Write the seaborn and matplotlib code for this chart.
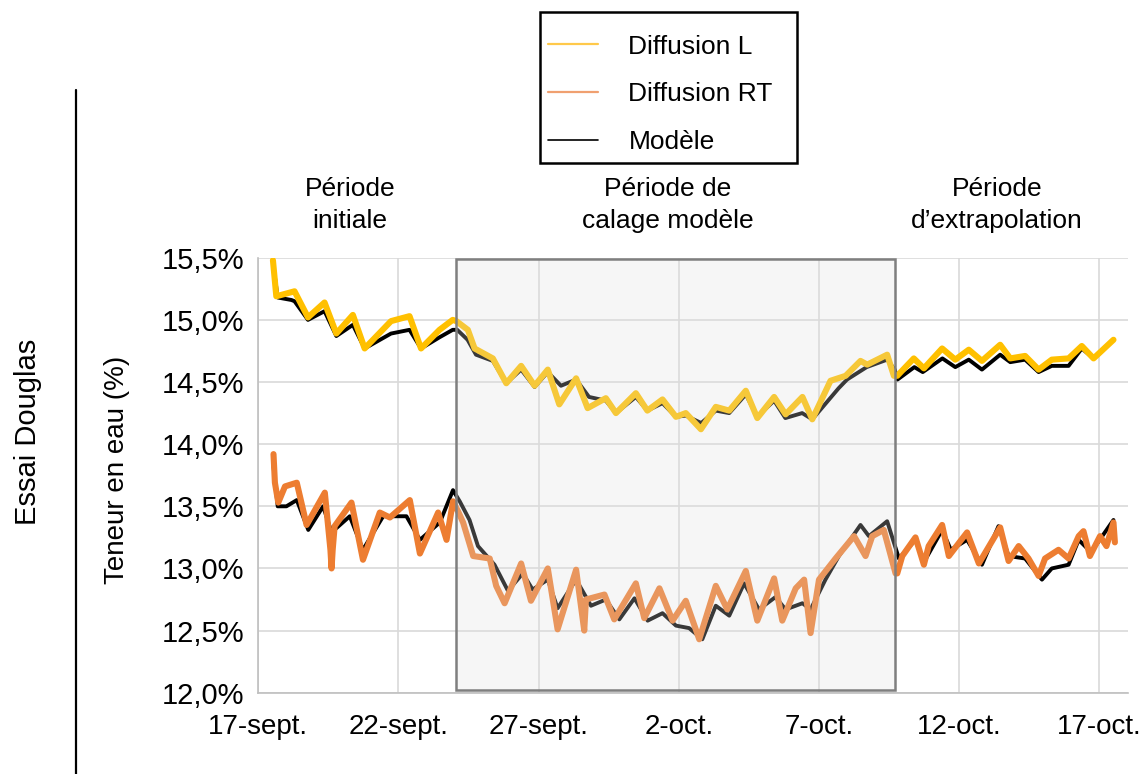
import pandas as pd
import matplotlib.pyplot as plt
import matplotlib.dates as mdates
from matplotlib.lines import Line2D
from matplotlib.patches import Rectangle
import seaborn as sns

sns.set_style("white")
plt.rcParams['font.family'] = ['Liberation Sans', 'DejaVu Sans']
plt.rcParams['text.color'] = 'black'
plt.rcParams['xtick.color'] = 'black'
plt.rcParams['ytick.color'] = 'black'

start = pd.Timestamp("2019-09-17")

# jours depuis le 17-sept. 00h, teneur en eau en %
l_days = [0.53, 0.65, 1.3, 1.78, 2.37, 2.79, 3.38, 3.80, 4.74, 5.40,
          5.81, 6.47, 6.94, 7.07, 7.48, 7.72, 8.37, 8.85, 9.38, 9.86,
          10.33, 10.74, 11.34, 11.75, 12.40, 12.76, 13.47, 13.88, 14.42, 14.90,
          15.25, 15.79, 16.32, 16.80, 17.39, 17.80, 18.40, 18.81, 19.41, 19.76,
          20.41, 20.95, 21.48, 21.72, 22.43, 22.67, 22.79, 23.38, 23.74, 24.39,
          24.86, 25.34, 25.81, 26.46, 26.82, 27.35, 27.83, 28.30, 28.90, 29.37,
          29.79, 30.50]
l_vals = [15.48, 15.19, 15.23, 15.02, 15.14, 14.89, 15.04, 14.77, 14.99, 15.03,
          14.77, 14.92, 15.00, 14.99, 14.92, 14.77, 14.69, 14.49, 14.63, 14.47,
          14.60, 14.32, 14.53, 14.29, 14.37, 14.25, 14.41, 14.27, 14.36, 14.22,
          14.25, 14.12, 14.30, 14.27, 14.43, 14.21, 14.38, 14.24, 14.38, 14.20,
          14.51, 14.55, 14.67, 14.64, 14.72, 14.55, 14.55, 14.69, 14.61, 14.77,
          14.68, 14.76, 14.67, 14.80, 14.69, 14.71, 14.60, 14.68, 14.69, 14.79,
          14.69, 14.84]

ml_days = [0.53, 0.7, 1.19, 1.3, 1.78, 2.37, 2.79, 3.38, 3.80, 4.74,
           5.40, 5.81, 6.47, 6.94, 7.1, 7.47, 7.77, 8.37, 8.85, 9.38,
           9.86, 10.33, 10.8, 11.34, 11.8, 12.40, 12.76, 13.47, 13.88, 14.42,
           14.90, 15.25, 15.8, 16.32, 16.80, 17.39, 17.80, 18.40, 18.8, 19.4,
           19.76, 20.7, 21.0, 21.7, 22.43, 22.7, 22.8, 23.4, 23.7, 24.4,
           24.86, 25.34, 25.81, 26.46, 26.82, 27.35, 27.83, 28.3, 28.9, 29.37,
           29.79, 30.5]
ml_vals = [15.46, 15.18, 15.16, 15.15, 15.00, 15.07, 14.87, 14.96, 14.77, 14.89,
           14.92, 14.77, 14.86, 14.92, 14.92, 14.84, 14.72, 14.67, 14.49, 14.60,
           14.46, 14.58, 14.47, 14.52, 14.38, 14.35, 14.25, 14.38, 14.27, 14.33,
           14.22, 14.23, 14.17, 14.27, 14.25, 14.40, 14.22, 14.35, 14.21, 14.25,
           14.20, 14.45, 14.52, 14.62, 14.68, 14.60, 14.52, 14.62, 14.58, 14.69,
           14.62, 14.68, 14.60, 14.72, 14.66, 14.68, 14.58, 14.63, 14.63, 14.77,
           14.69, 14.84]

rt_days = [0.55, 0.6, 0.72, 0.96, 1.38, 1.73, 2.38, 2.58, 2.62, 2.66,
           2.73, 3.33, 3.74, 4.34, 4.70, 5.41, 5.77, 6.42, 6.72, 6.95,
           7.13, 7.31, 7.67, 8.26, 8.49, 8.79, 9.38, 9.73, 10.33, 10.68,
           11.34, 11.63, 11.69, 12.35, 12.70, 13.47, 13.77, 14.31, 14.78, 15.25,
           15.73, 16.32, 16.73, 17.39, 17.80, 18.40, 18.69, 19.17, 19.47, 19.70,
           20.0, 20.59, 21.25, 21.66, 21.90, 22.31, 22.73, 22.79, 22.97, 23.44,
           23.74, 23.91, 24.39, 24.63, 25.28, 25.70, 26.46, 26.76, 27.12, 27.47,
           27.83, 28.06, 28.54, 28.90, 29.26, 29.43, 29.66, 30.02, 30.25, 30.50,
           30.55]
rt_vals = [13.92, 13.69, 13.53, 13.66, 13.69, 13.35, 13.61, 13.15, 13.00, 13.15,
           13.34, 13.53, 13.07, 13.45, 13.41, 13.55, 13.12, 13.45, 13.23, 13.54,
           13.46, 13.37, 13.10, 13.08, 12.86, 12.72, 13.04, 12.74, 13.00, 12.51,
           12.99, 12.50, 12.75, 12.79, 12.59, 12.88, 12.60, 12.84, 12.58, 12.74,
           12.43, 12.86, 12.67, 12.98, 12.58, 12.92, 12.58, 12.84, 12.91, 12.48,
           12.91, 13.08, 13.26, 13.10, 13.26, 13.31, 12.96, 12.96, 13.10, 13.25,
           13.03, 13.18, 13.35, 13.10, 13.29, 13.04, 13.33, 13.06, 13.18, 13.08,
           12.94, 13.08, 13.15, 13.08, 13.26, 13.30, 13.10, 13.26, 13.18, 13.37,
           13.21]

mrt_days = [0.55, 0.7, 1.01, 1.38, 1.79, 2.32, 2.62, 3.27, 3.74, 4.46,
            5.29, 5.77, 6.48, 6.95, 7.19, 7.54, 7.84, 8.43, 8.91, 9.44,
            9.79, 10.33, 10.68, 11.34, 11.87, 12.40, 12.88, 13.42, 13.89, 14.42,
            14.90, 15.37, 15.84, 16.32, 16.80, 17.33, 17.86, 18.45, 18.81, 19.41,
            19.70, 20.23, 20.71, 21.48, 21.78, 22.43, 22.85, 23.44, 23.74, 24.39,
            24.7, 25.28, 25.81, 26.40, 26.76, 27.35, 27.95, 28.30, 28.90, 29.26,
            29.7, 30.5]
mrt_vals = [13.82, 13.50, 13.50, 13.55, 13.31, 13.50, 13.29, 13.42, 13.15, 13.42,
            13.42, 13.23, 13.37, 13.63, 13.54, 13.39, 13.18, 13.03, 12.82, 12.96,
            12.83, 12.91, 12.68, 12.91, 12.70, 12.75, 12.59, 12.76, 12.58, 12.64,
            12.54, 12.52, 12.43, 12.70, 12.62, 12.88, 12.67, 12.77, 12.67, 12.72,
            12.67, 12.91, 13.10, 13.35, 13.26, 13.38, 13.08, 13.23, 13.05, 13.31,
            13.15, 13.23, 13.03, 13.34, 13.10, 13.08, 12.91, 13.00, 13.03, 13.23,
            13.13, 13.39]

xtick_days = [0, 5, 10, 15, 20, 25, 30]
xtick_labels = ["17-sept.", "22-sept.", "27-sept.", "2-oct.", "7-oct.", "12-oct.", "17-oct."]
yticks = [12.0, 12.5, 13.0, 13.5, 14.0, 14.5, 15.0, 15.5]
ytick_labels = ["12,0%", "12,5%", "13,0%", "13,5%", "14,0%", "14,5%", "15,0%", "15,5%"]
calage = (7.05, 22.7)  # période de calage, en jours


def to_df(days, vals):
    return pd.DataFrame({"date": start + pd.to_timedelta(days, unit="D"), "teneur": vals})


yellow = "#FFC000"
orange = "#ED7D31"

fig = plt.figure(figsize=(11.47, 7.74), dpi=100)
ax = fig.add_axes([0.225, 0.105, 0.758, 0.562])

sns.lineplot(data=to_df(ml_days, ml_vals), x="date", y="teneur", color="black", lw=2.8, ax=ax, zorder=2)
sns.lineplot(data=to_df(mrt_days, mrt_vals), x="date", y="teneur", color="black", lw=2.8, ax=ax, zorder=2)
sns.lineplot(data=to_df(l_days, l_vals), x="date", y="teneur", color=yellow, lw=4.4, ax=ax, zorder=3)
sns.lineplot(data=to_df(rt_days, rt_vals), x="date", y="teneur", color=orange, lw=4.4, ax=ax, zorder=3)

# zone grisée de calage
x0 = mdates.date2num(start + pd.Timedelta(days=calage[0]))
x1 = mdates.date2num(start + pd.Timedelta(days=calage[1]))
ax.add_patch(Rectangle((x0, 12.02), x1 - x0, 15.49 - 12.02,
                       facecolor=(223 / 255, 223 / 255, 223 / 255, 0.26),
                       edgecolor="#7F7F7F", lw=1.8, zorder=4))

ax.set_xlim(start, start + pd.Timedelta(days=31))
ax.set_ylim(12.0, 15.5)
ax.set_xticks([start + pd.Timedelta(days=d) for d in xtick_days])
ax.set_xticklabels(xtick_labels, fontsize=20)
ax.set_yticks(yticks)
ax.set_yticklabels(ytick_labels, fontsize=21)
ax.tick_params(axis="x", length=0, pad=15, labelcolor="black")
ax.tick_params(axis="y", length=0, pad=10, labelcolor="black")
ax.grid(True, color="#D9D9D9", lw=1.2)
ax.set_axisbelow(True)
for s in ["top", "right"]:
    ax.spines[s].set_visible(False)
for s in ["left", "bottom"]:
    ax.spines[s].set_color("#BFBFBF")
    ax.spines[s].set_linewidth(1.2)
ax.set_xlabel("")
ax.set_ylabel("")

fig.text(0.102, 0.393, "Teneur en eau (%)", rotation=90, fontsize=20, ha="center", va="center")
fig.text(0.024, 0.442, "Essai Douglas", rotation=90, fontsize=21, ha="center", va="center")
fig.add_artist(Line2D([0.066, 0.066], [0.0, 0.884], color="black", lw=1.6, transform=fig.transFigure))

for xf, txt in [(0.305, "Période\ninitiale"), (0.582, "Période de\ncalage modèle"),
                (0.869, "Période\nd’extrapolation")]:
    fig.text(xf, 0.735, txt, fontsize=19, ha="center", va="center", linespacing=1.45)

handles = [Line2D([], [], color="#FFC94A", lw=1.6),
           Line2D([], [], color="#F0A070", lw=1.6),
           Line2D([], [], color="black", lw=1.2)]
fig.legend(handles, ["Diffusion L", "Diffusion RT", "Modèle"],
           loc="upper left", bbox_to_anchor=(0.457, 0.986), fontsize=19, frameon=False,
           handlelength=1.9, handletextpad=1.15, labelspacing=0.9, borderpad=0.9,
           borderaxespad=0, labelcolor="black")
# cadre de la légende
fig.add_artist(Rectangle((0.4708, 0.7894), 0.2241, 0.1951, transform=fig.transFigure,
                         facecolor="none", edgecolor="black", lw=1.8))

fig.savefig("out.png", dpi=100)
